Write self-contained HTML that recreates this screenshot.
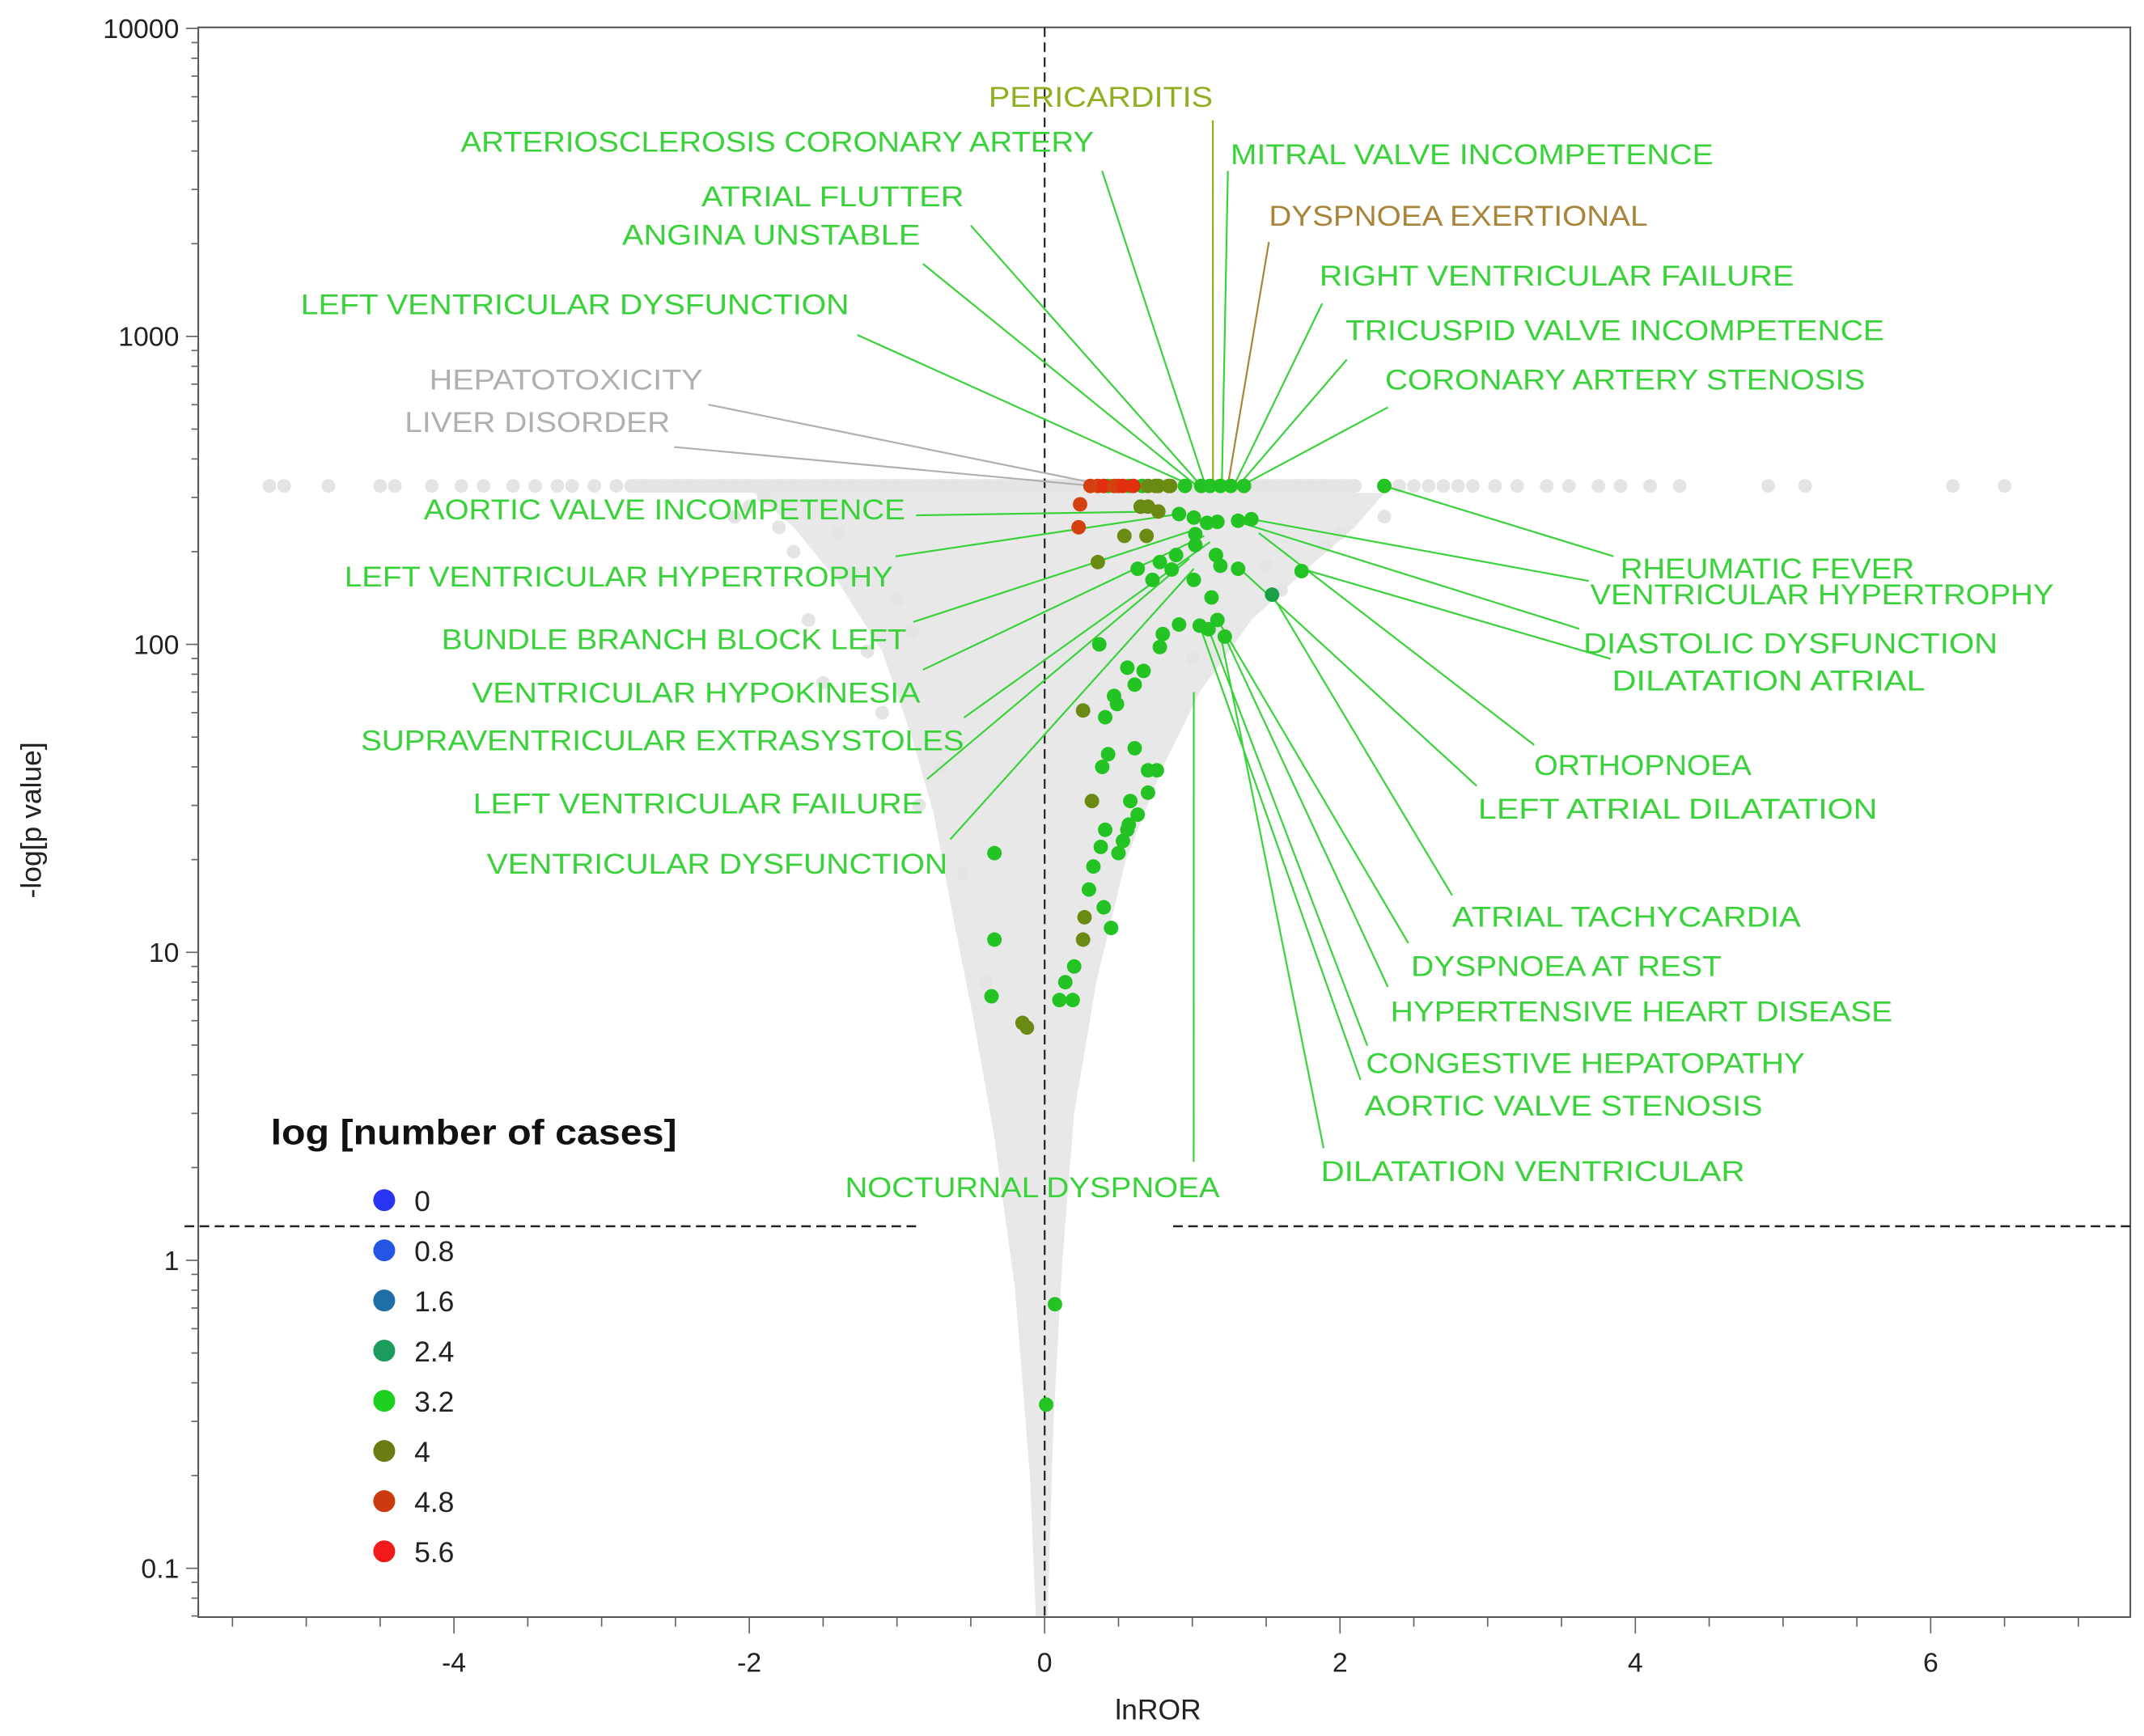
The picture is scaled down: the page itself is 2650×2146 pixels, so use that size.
<!DOCTYPE html>
<html><head><meta charset="utf-8"><title>Volcano plot</title>
<style>html,body{margin:0;padding:0;background:#fff}svg{display:block}
text{font-family:"Liberation Sans",sans-serif}</style></head>
<body>
<svg id="chart" width="2650" height="2146" viewBox="0 0 1568 1270" preserveAspectRatio="none" xmlns="http://www.w3.org/2000/svg">
<g id="cloud"></g>
<g id="axes"></g>
<g id="leaders"></g>
<g id="points"></g>
<g id="labels"></g>
<g id="legend"></g>
</svg>
<script>
// ---- data ----
const xTicks = [-4,-2,0,2,4,6];
const yTicks = [0.1,1,10,100,1000,10000];
const yTickLabels = ["0.1","1","10","100","1000","10000"];
const thresholdP = 1.29;
const topValue = 327;
const grayTopRow = [-5.25,-5.15,-4.85,-4.5,-4.4,-4.15,-3.95,-3.8,-3.6,-3.45,-3.3,-3.2,-3.05,-2.9,-2.8,-2.7,-2.6,-2.5,-2.4,-2.3,-2.2,-2.1,-2.0,-1.9,-1.8,-1.7,-1.6,-1.5,-1.4,-1.3,-1.2,-1.1,-1.0,-0.9,-0.8,-0.7,-0.6,-0.5,-0.4,-0.3,-0.2,-0.1,0.0,0.1,0.2,1.3,1.4,1.5,1.6,1.7,1.8,1.9,2.0,2.1,2.4,2.5,2.6,2.7,2.8,2.9,3.05,3.2,3.4,3.55,3.75,3.9,4.1,4.3,4.9,5.15,6.15,6.5];
const envLnror = [-2.0,-1.7,-1.4,-1.1,-0.9,-0.75,-0.62,-0.48,-0.34,-0.2,-0.1,-0.06,0.02,0.06,0.12,0.2,0.35,0.55,0.8,1.05,1.4,1.8,2.1,2.3];
const envP =     [320, 240, 160, 95,   50,  28,   13,   6,    2.5,  0.8, 0.2,  0.07, 0.07, 0.3, 1.0, 3.0, 8,   20,  40,  70,  120, 180, 240, 310];
const grayScatterX = [-2.1,-1.8,-1.7,-1.4,-1.3,-1.0,-0.9,-1.6,-1.2,-2.0,1.5,1.9,2.3,2.0,1.6,-0.7,-1.1,-1.5,-0.85,-0.55,1.2,1.0,-1.9,-0.4];
const grayScatterP = [260,240,200,230,170,140,110,120,95,280,180,210,260,230,150,40,60,75,30,18,110,90,300,8];
const ptX = [0.31,0.36,0.43,0.5,0.57,0.66,0.75,0.84,0.7,0.77,0.85,0.95,1.06,1.12,1.19,1.26,1.35,2.3,0.4,0.47,0.53,0.6,
 0.24,0.23,0.36,0.65,0.7,0.54,0.69,0.77,0.91,1.01,
 1.1,1.02,1.17,1.31,1.4,1.16,1.02,0.89,0.78,0.63,
 0.73,0.86,1.01,1.13,1.19,1.31,1.74,1.54,1.17,1.11,
 1.05,1.22,0.91,0.8,0.78,0.67,0.56,0.47,0.61,0.49,
 0.37,0.41,0.43,0.39,0.61,0.7,0.76,0.58,0.7,0.63,
 0.56,0.41,0.38,0.57,0.53,0.5,0.33,0.3,0.4,0.45,
 0.26,0.32,0.2,0.19,0.1,0.14,-0.34,-0.34,-0.36,-0.15,
 -0.12,0.07,0.01,0.27,0.26];
const ptP = [327,327,327,327,327,327,327,327,327,327,327,327,327,327,327,327,327,327,327,327,327,327,
 285,240,185,280,280,225,225,270,265,258,
 248,228,250,252,255,195,210,195,185,176,
 162,175,162,142,180,176,173,145,120,112,
 115,106,116,108,98,82,84,68,74,64,
 100,58,44,40,46,39,39,31,33,28,
 25,25,22,26,23,21,19,16,14,12,
 61,31,9,7,7,8,21,11,7.2,5.9,
 5.7,0.72,0.34,13,11];
const ptCls = [5,5,4,5,4,4,3,3,3,3,3,4,4,4,4,4,4,4,6,5,6,6,
 5,5,3,3,3,3,3,3,4,4,
 4,4,4,4,4,4,4,4,4,4,
 4,4,4,4,4,4,4,7,4,4,
 4,4,4,4,4,4,4,4,4,4,
 4,4,4,4,4,4,4,4,4,4,
 4,4,4,4,4,4,4,4,4,4,
 3,3,4,4,4,4,4,4,4,3,
 3,4,4,3,3];
const legendValues = ["0","0.8","1.6","2.4","3.2","4","4.8","5.6"];
const legendColors = ["#2a35f2","#2456e6","#1f6fa6","#1b9c5c","#1ed01e","#6a7c12","#cc3b10","#f01a1a"];
const ptColors = ["#2a35f2","#2456e6","#1f6fa6","#6a8a14","#22c322","#d4400f","#e0300f","#1aa048"];
const labText = ["PERICARDITIS","ARTERIOSCLEROSIS CORONARY ARTERY","MITRAL VALVE INCOMPETENCE","DYSPNOEA EXERTIONAL","ATRIAL FLUTTER","ANGINA UNSTABLE","RIGHT VENTRICULAR FAILURE","LEFT VENTRICULAR DYSFUNCTION","TRICUSPID VALVE INCOMPETENCE","CORONARY ARTERY STENOSIS","HEPATOTOXICITY","LIVER DISORDER","AORTIC VALVE INCOMPETENCE","LEFT VENTRICULAR HYPERTROPHY","BUNDLE BRANCH BLOCK LEFT","VENTRICULAR HYPOKINESIA","SUPRAVENTRICULAR EXTRASYSTOLES","LEFT VENTRICULAR FAILURE","VENTRICULAR DYSFUNCTION","NOCTURNAL DYSPNOEA","RHEUMATIC FEVER","VENTRICULAR HYPERTROPHY","DIASTOLIC DYSFUNCTION","DILATATION ATRIAL","ORTHOPNOEA","LEFT ATRIAL DILATATION","ATRIAL TACHYCARDIA","DYSPNOEA AT REST","HYPERTENSIVE HEART DISEASE","CONGESTIVE HEPATOPATHY","AORTIC VALVE STENOSIS","DILATATION VENTRICULAR"];
const labX1 = [723,337,900,928,513,455,965,220,984,1013,314,296,310,252,323,345,264,346,356,618,1185,1163,1158,1179,1122,1081,1062,1032,1017,999,998,966];
const labX2 = [887,800,1253,1205,705,673,1312,621,1378,1364,514,490,662,653,663,673,705,675,693,892,1400,1502,1461,1408,1281,1373,1317,1259,1384,1320,1289,1276];
const labY = [70,103,112,157,143,171,201,222,241,277,277,308,372,421,467,506,541,587,631,868,415,434,470,497,559,591,670,706,739,777,808,856];
const labKind = [1,0,0,2,0,0,0,0,0,0,3,3,0,0,0,0,0,0,0,0,0,0,0,0,0,0,0,0,0,0,0,0];
const lineSX = [887,806,898,928,710,675,967,627,985,1015,518,493,670,655,668,675,705,678,695,873,1180,1162,1155,1178,1122,1080,1062,1030,1015,1000,995,968];
const lineSY = [88,125,125,177,165,193,222,245,263,298,296,327,377,407,455,490,525,570,614,850,407,425,460,482,545,575,655,690,722,765,790,840];
const tgtX = [1.14,1.09,1.2,1.24,1.06,1.03,1.28,1.0,1.31,1.33,0.43,0.33,0.78,0.91,1.01,1.08,1.12,0.98,1.01,1.01,2.3,1.4,1.31,1.74,1.45,1.31,1.54,1.19,1.22,1.11,1.05,1.19];
const tgtP = [327,327,327,327,327,327,327,327,327,327,327,327,270,265,235,225,215,190,176,70,327,255,250,176,230,178,145,116,106,112,115,108];
// ---- axes functions ----
const L=145,R=1558,T=20,B=1183;
const X0=764, XU=108;
function sx(v){return X0+v*XU;}
function sy(p){return 922-Math.log10(p)*225.3;}
const NS="http://www.w3.org/2000/svg";
function mk(tag,parent,attrs){const e=document.createElementNS(NS,tag);for(const k in attrs)e.setAttribute(k,attrs[k]);parent.appendChild(e);return e;}
const cloud=document.getElementById('cloud'),axes=document.getElementById('axes'),leaders=document.getElementById('leaders'),points=document.getElementById('points'),labels=document.getElementById('labels'),legend=document.getElementById('legend');
let fr=mk('rect',axes,{x:L,y:T,width:R-L,height:B-T,fill:'none',stroke:'#555','stroke-width':1.2});


let pts=envLnror.map((v,i)=>sx(v)+','+sy(envP[i])).join(' ');
let env=mk('polygon',cloud,{points:pts,fill:'#e8e8e8'});


let band=mk('line',cloud,{x1:sx(-2.8),x2:sx(2.1),y1:sy(topValue),y2:sy(topValue),stroke:'#e6e6e6','stroke-width':10,'stroke-linecap':'round'});


grayTopRow.forEach(v=>{const c=mk('circle',cloud,{cx:sx(v),cy:sy(topValue),r:5,fill:'#e4e4e4'});

});
grayScatterX.forEach((v,i)=>{const c=mk('circle',cloud,{cx:sx(v),cy:sy(grayScatterP[i]),r:5,fill:'#e4e4e4'});

});
for(let v=-5.5;v<=7.01;v+=0.5){const major=Math.abs(v-Math.round(v/2)*2)<1e-6;mk('line',axes,{x1:sx(v),x2:sx(v),y1:B,y2:B+(major?12:7),stroke:'#666','stroke-width':1});}
xTicks.forEach(v=>{const t=mk('text',axes,{x:sx(v),y:B+40,'text-anchor':'middle','font-size':20,fill:'#222'});t.textContent=v<0?'-'+Math.abs(v):String(v);

});
for(let d=-2;d<4;d++){for(let m=1;m<10;m++){const p=m*Math.pow(10,d);const y=sy(p);if(y<T-1||y>B)continue;mk('line',axes,{x1:L-(m==1?9:5),x2:L,y1:y,y2:y,stroke:'#666','stroke-width':1});}}
mk('line',axes,{x1:L-9,x2:L,y1:sy(10000),y2:sy(10000),stroke:'#666'});
yTicks.forEach((p,i)=>{const t=mk('text',axes,{x:L-14,y:sy(p)+7,'text-anchor':'end','font-size':20,fill:'#222'});t.textContent=yTickLabels[i];

});
let xt=mk('text',axes,{x:847,y:1258,'text-anchor':'middle','font-size':21,fill:'#222'});xt.textContent='lnROR';


let yt=mk('text',axes,{x:0,y:0,transform:'translate(30,600) rotate(-90)','text-anchor':'middle','font-size':21,fill:'#222'});yt.textContent='-log[p value]';


let vl=mk('line',axes,{x1:sx(0),x2:sx(0),y1:T,y2:B,stroke:'#222','stroke-width':1.3,'stroke-dasharray':'7,4'});


let h1=mk('line',axes,{x1:L-10,x2:672,y1:sy(thresholdP),y2:sy(thresholdP),stroke:'#222','stroke-width':1.5,'stroke-dasharray':'7,4'});


let h2=mk('line',axes,{x1:858,x2:R,y1:sy(thresholdP),y2:sy(thresholdP),stroke:'#222','stroke-width':1.5,'stroke-dasharray':'7,4'});


const kindCol=['#3ad23a','#8eb020','#a8853a','#b0b0b0'];
labText.forEach((s,i)=>{
 const ln=mk('line',leaders,{x1:lineSX[i],y1:lineSY[i],x2:sx(tgtX[i]),y2:sy(tgtP[i]),stroke:kindCol[labKind[i]],'stroke-width':1.3});
 
 
 const t=mk('text',labels,{x:labX1[i],y:labY[i]+8,'font-size':21,fill:kindCol[labKind[i]],textLength:labX2[i]-labX1[i],lengthAdjust:'spacingAndGlyphs'});
 t.textContent=s;
 
 
});
ptX.forEach((v,i)=>{const c=mk('circle',points,{cx:sx(v),cy:sy(ptP[i]),r:5.3,fill:ptColors[ptCls[i]===undefined?4:ptCls[i]]});

});
let lt=mk('text',legend,{x:198,y:837,'font-size':26,'font-weight':'bold',fill:'#111',textLength:297,lengthAdjust:'spacingAndGlyphs'});lt.textContent='log [number of cases]';


legendValues.forEach((v,i)=>{const y=878+i*36.7;
 const c=mk('circle',legend,{cx:281,cy:y,r:8,fill:legendColors[i]});
 
 
 const t=mk('text',legend,{x:303,y:y+8,'font-size':21,fill:'#222'});t.textContent=v;
 
 });
</script>
</body></html>
